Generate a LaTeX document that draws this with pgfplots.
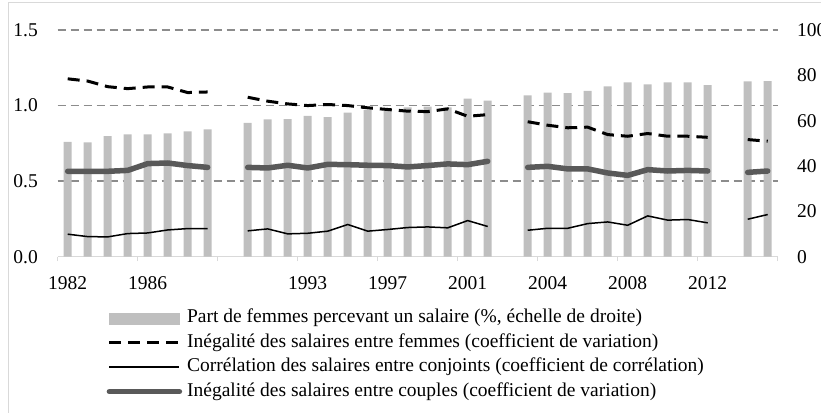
\documentclass[border=0pt]{standalone}
\usepackage{pgfplots}
\pgfplotsset{compat=1.18}
\usepackage{pgfplotstable}
\usepackage{fontspec}
\setmainfont{Liberation Serif}
\definecolor{barcol}{HTML}{BFBFBF}
\definecolor{thickcol}{HTML}{595959}
\definecolor{gridcol}{HTML}{8C8C8C}
\definecolor{axcol}{HTML}{D9D9D9}
\newcommand{\fs}{\fontsize{19.5}{23}\selectfont}

\pgfplotstableread{
idx bar dash thin thick
0 50.7 1.177 0.149 0.565
1 50.4 1.162 0.133 0.565
2 53.2 1.125 0.131 0.565
3 54.0 1.112 0.153 0.571
4 54.0 1.123 0.157 0.616
5 54.4 1.123 0.177 0.620
6 55.3 1.086 0.186 0.603
7 56.2 1.090 0.186 0.591
8 nan nan nan nan
9 59.0 1.055 0.171 0.591
10 60.6 1.029 0.184 0.587
11 60.7 1.011 0.151 0.605
12 62.1 1.000 0.155 0.587
13 61.6 1.007 0.169 0.611
14 63.5 1.000 0.213 0.609
15 64.7 0.985 0.169 0.605
16 64.3 0.974 0.180 0.603
17 65.9 0.963 0.193 0.594
18 66.2 0.960 0.197 0.603
19 65.9 0.978 0.191 0.614
20 69.7 0.929 0.239 0.609
21 68.8 0.940 0.200 0.631
22 nan nan nan nan
23 71.2 0.893 0.175 0.591
24 72.4 0.870 0.188 0.598
25 72.2 0.853 0.188 0.581
26 73.1 0.857 0.219 0.581
27 75.1 0.808 0.230 0.554
28 76.9 0.797 0.208 0.538
29 76.0 0.815 0.270 0.576
30 76.9 0.797 0.242 0.567
31 76.9 0.797 0.246 0.571
32 75.7 0.790 0.224 0.567
33 nan nan nan nan
34 77.3 0.775 0.248 0.558
35 77.5 0.764 0.279 0.567
}\data

\begin{document}
\begin{tikzpicture}
% frame
\draw[axcol, line width=1pt] (8pt,409pt) rectangle (840pt,-20pt);

% right axis with bars and grid
\begin{axis}[
  at={(57.7pt,155.3pt)}, anchor=south west,
  scale only axis, width=720pt, height=226.7pt,
  xmin=-0.5, xmax=35.5, ymin=0, ymax=100,
  ybar, bar width=8pt,
  axis y line*=right, axis x line*=bottom,
  y axis line style={draw=none},
  x axis line style={draw=axcol, line width=1.5pt},
  ytick={0,20,40,60,80,100},
  major tick length=0pt,
  ytick style={draw=none},
  xtick style={draw=none},
  yticklabel style={font=\fs, inner sep=0pt, anchor=west},
  yticklabel shift=19.3pt,
  xtick={0,4,8,12,16,20,24,28,32},
  xticklabels={1982,1986,,1993,1997,2001,2004,2008,2012},
  xticklabel style={font=\fs, inner sep=0pt, anchor=north},
  xticklabel shift=20pt,
  extra x ticks={-0.5,3.5,7.5,11.5,15.5,19.5,23.5,27.5,31.5,35.5},
  extra x tick labels={},
  extra x tick style={major tick length=4.5pt, tick align=outside, xtick style={draw=axcol, line width=1.3pt}},
  extra y ticks={33.3333,66.6667,100},
  extra y tick labels={},
  extra y tick style={grid=major, major grid style={draw=gridcol, line width=1.3pt, dash pattern=on 8pt off 5pt}},
  /pgf/number format/assume math mode=true,
  axis on top=false,
]
\addplot[fill=barcol, draw=none] table[x=idx, y=bar] {\data};
\end{axis}

% left axis with lines
\begin{axis}[
  at={(57.7pt,155.3pt)}, anchor=south west,
  scale only axis, width=720pt, height=226.7pt,
  xmin=-0.5, xmax=35.5, ymin=0, ymax=1.5,
  axis y line*=left, axis x line=none,
  y axis line style={draw=none},
  ytick={0,0.5,1,1.5},
  major tick length=0pt, ytick style={draw=none},
  yticklabel style={font=\fs, inner sep=0pt, anchor=east,
    /pgf/number format/.cd, fixed, fixed zerofill, precision=1, assume math mode=true},
  yticklabel shift=19.7pt,
  unbounded coords=jump,
  legend image code/.code={\draw[#1] (0pt,0pt) -- (70pt,0pt);},
  legend style={at={(axis description cs:0.068,0)}, anchor=north west, yshift=-52pt,
    draw=none, fill=none, inner sep=0pt, outer sep=0pt, font=\fs,
    row sep=5.5pt,
    nodes={inner sep=0pt, text height=14pt, text depth=5pt},
    /tikz/every odd column/.style={column sep=5pt}},
  legend cell align=left,
]
\addlegendimage{legend image code/.code={\fill[barcol] (0pt,-5.5pt) rectangle (70pt,5.5pt);}}
\addlegendentry{Part de femmes percevant un salaire (\%, échelle de droite)}
\addplot[black, line width=3pt, dash pattern=on 12pt off 7pt] table[x=idx, y=dash] {\data};
\addlegendentry{Inégalité des salaires entre femmes (coefficient de variation)}
\addplot[black, line width=1.5pt] table[x=idx, y=thin] {\data};
\addlegendentry{Corrélation des salaires entre conjoints (coefficient de corrélation)}
\addplot[thickcol, line width=5.5pt, line cap=round, line join=round] table[x=idx, y=thick] {\data};
\addlegendentry{Inégalité des salaires entre couples (coefficient de variation)}
\end{axis}

\pgfresetboundingbox
\path[use as bounding box] (0pt,0pt) rectangle (821pt,412pt);
\end{tikzpicture}
\end{document}
